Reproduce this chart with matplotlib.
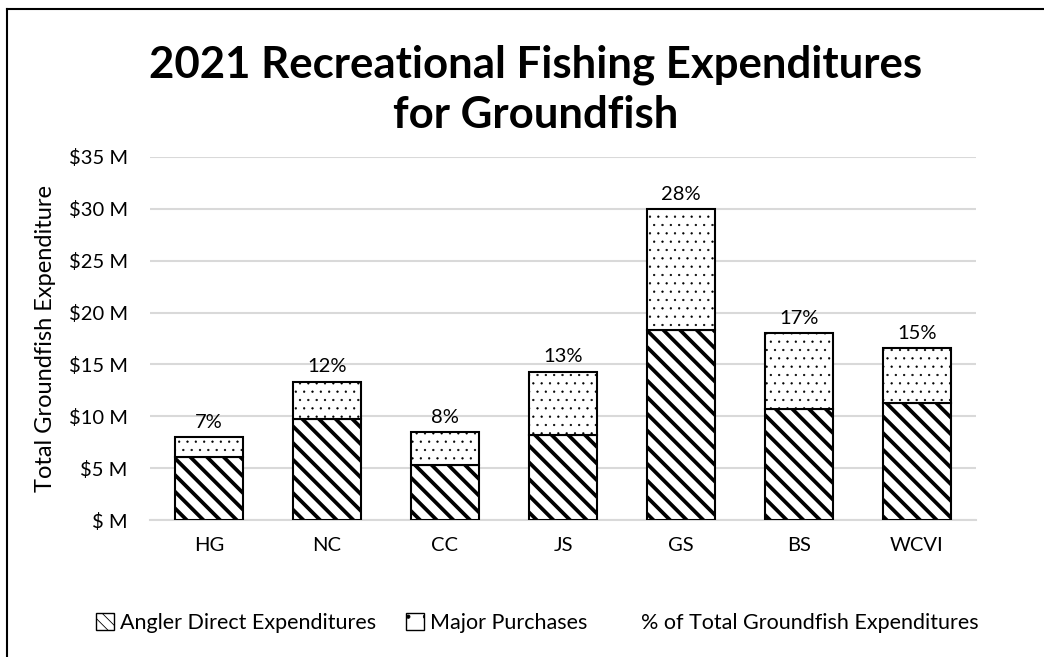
import matplotlib
matplotlib.use("Agg")
import matplotlib.pyplot as plt
from matplotlib.lines import Line2D
from matplotlib.patches import Patch
import numpy as np

# data (millions of dollars)
regions = ["HG", "NC", "CC", "JS", "GS", "BS", "WCVI"]
direct = [6.1, 9.7, 5.35, 8.15, 18.3, 10.75, 11.3]
major = [1.9, 3.65, 3.15, 6.15, 11.65, 7.3, 5.25]
pct = ["7%", "12%", "8%", "13%", "28%", "17%", "15%"]

plt.rcParams["font.family"] = ["Lato", "DejaVu Sans"]
plt.rcParams["hatch.linewidth"] = 0.6


def hatch_lw(patches, lw):
    for p in patches:
        if hasattr(p, "set_hatch_linewidth"):
            p.set_hatch_linewidth(lw)


fig = plt.figure(figsize=(10.44, 6.57), dpi=100)
ax = fig.add_axes([150/1044, 1-520/657, 826/1044, 363/657])

x = np.arange(len(regions))
w = 0.58
b1 = ax.bar(x, direct, w, color="white", edgecolor="black", hatch="\\\\",
            linewidth=1.5, zorder=3)
hatch_lw(b1, 2.7)
b2 = ax.bar(x, major, w, bottom=direct, color="white", edgecolor="black",
            hatch="..", linewidth=1.5, zorder=3)
hatch_lw(b2, 0.4)

totals = [d + m for d, m in zip(direct, major)]
for xi, t, p in zip(x, totals, pct):
    ax.text(xi, t + 0.6, p, ha="center", va="bottom", fontsize=14.5)

ax.set_xlim(-0.5, len(regions) - 0.5)
ax.set_ylim(0, 35)
ax.set_yticks(range(0, 36, 5))
ax.set_yticklabels(["$ M" if v == 0 else f"${v} M" for v in range(0, 36, 5)])
ax.set_xticks(x)
ax.set_xticklabels(regions)
ax.tick_params(length=0, labelsize=14.5, pad=16)
ax.tick_params(axis="x", pad=12)
ax.grid(axis="y", color="#d9d9d9", linewidth=1.5, zorder=0)
for s in ["top", "right", "left"]:
    ax.spines[s].set_visible(False)
ax.spines["bottom"].set_color("#d9d9d9")
ax.spines["bottom"].set_linewidth(1.5)
ax.set_ylabel("Total Groundfish Expenditure", fontsize=17, labelpad=9)

fig.text(0.513, 1-90/657, "2021 Recreational Fishing Expenditures\nfor Groundfish",
         ha="center", va="center", fontsize=31.5, fontweight="bold", linespacing=1.3)

handles = [Patch(facecolor="white", edgecolor="black", hatch="\\\\\\"),
           Patch(facecolor="white", edgecolor="black", hatch="."),
           Line2D([], [], color="none")]
labels = ["Angler Direct Expenditures", "Major Purchases",
          "% of Total Groundfish Expenditures"]
fig.legend(handles, labels, loc="center", bbox_to_anchor=(0.515, 1-623/657),
           ncol=3, frameon=False, fontsize=15.5, handlelength=0.8,
           handleheight=0.8, handletextpad=0.3, columnspacing=1.4)

# outer frame (left and top edges visible)
fig.add_artist(Line2D([7/1044, 7/1044], [0, 1-9/657], color="black", lw=1.5,
                      transform=fig.transFigure))
fig.add_artist(Line2D([7/1044, 1], [1-9/657, 1-9/657], color="black", lw=1.5,
                      transform=fig.transFigure))

fig.savefig("out.png", dpi=100)
